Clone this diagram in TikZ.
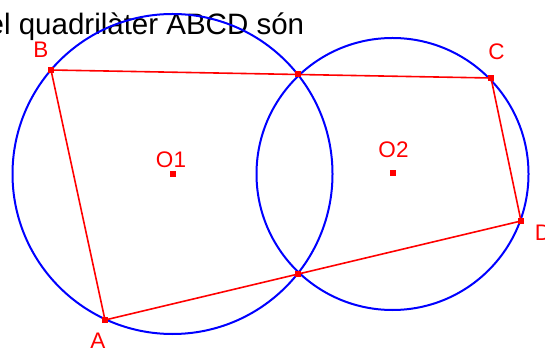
\documentclass[tikz,border=0pt]{standalone}
\usepackage{fontspec}
\setmainfont{Liberation Sans}
\usetikzlibrary{positioning}
\definecolor{geored}{HTML}{FF0000}
\definecolor{geoblue}{HTML}{0000FF}
\tikzset{
  circ/.style   = {draw=geoblue, line width=2pt},
  side/.style   = {draw=geored, line width=1.6pt},
  pt/.style     = {fill=geored, minimum size=6pt, inner sep=0pt},
  ptlbl/.style  = {text=geored, font=\fontsize{22.5}{24}\selectfont, inner sep=0pt},
  headline/.style = {font=\fontsize{29.5}{32}\selectfont, inner sep=0pt},
}

\begin{document}
\begin{tikzpicture}[x=1pt, y=-1pt]
  \useasboundingbox (0,0) rectangle (545,352);
  \clip (0,0) rectangle (545,352);
  \node[headline, anchor=base west] (head) at (-12.5,35) {el quadrilàter ABCD són};
  % the two circles
  \draw[circ] (172.5,174) circle[radius=160];
  \draw[circ] (392.5,174) circle[radius=136];
  % quadrilateral
  \node[pt] (A) at (105,320) {};
  \node[pt] (B) at (51,70) {};
  \node[pt] (C) at (491,78) {};
  \node[pt] (D) at (521,221) {};
  \node[pt] (P) at (298,74.5) {};
  \node[pt] (Q) at (298,273.5) {};
  \draw[side] (A.center) -- (B.center) -- (C.center) -- (D.center) -- cycle;
  \node[pt] at (A) {};
  \node[pt] at (B) {};
  \node[pt] at (C) {};
  \node[pt] at (D) {};
  \node[pt] at (P) {};
  \node[pt] at (Q) {};
  % centres
  \node[pt] (O1) at (173,174) {};
  \node[pt] (O2) at (392.5,173.5) {};
  % labels
  \node[ptlbl] (lblA) at (98,341) {A};
  \node[ptlbl] (lblB) at (41,50) {B};
  \node[ptlbl] (lblC) at (496.5,51.5) {C};
  \node[ptlbl] (lblD) at (543,233) {D};
  \node[ptlbl] (lblO1) at (171,160) {O1};
  \node[ptlbl] (lblO2) at (393.5,150) {O2};
\end{tikzpicture}
\end{document}
